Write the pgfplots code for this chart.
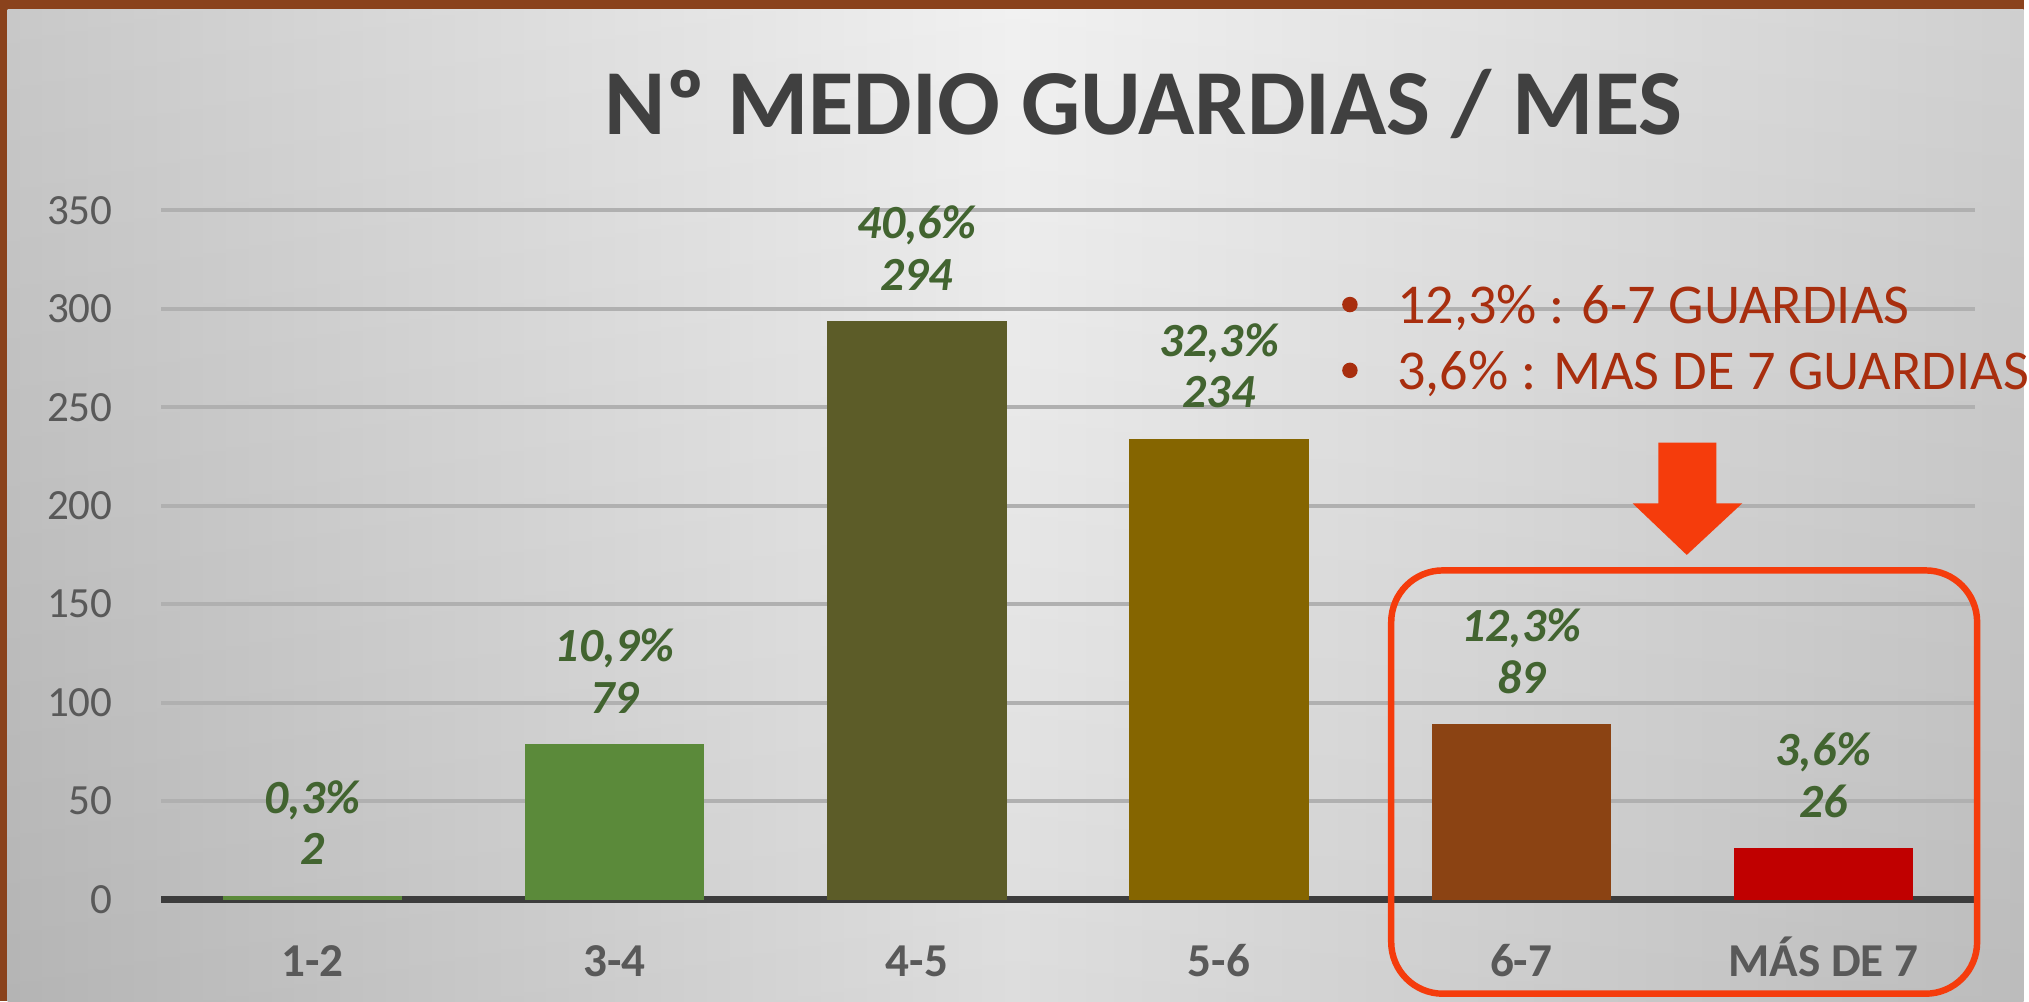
\documentclass[border=0pt]{standalone}
\usepackage{fontspec}
\setmainfont{Carlito}
\usepackage{pgfplots}
\pgfplotsset{compat=1.18}
\definecolor{bordbrown}{RGB}{138,66,28}
\definecolor{bgleft}{RGB}{196,196,196}
\definecolor{bgmid}{RGB}{240,240,240}
\definecolor{bgright}{RGB}{204,204,204}
\definecolor{titlegray}{RGB}{64,64,64}
\definecolor{tickgray}{RGB}{89,89,89}
\definecolor{gridgray}{RGB}{176,176,176}
\definecolor{axisdark}{RGB}{60,60,60}
\definecolor{labgreen}{RGB}{66,100,48}
\definecolor{notered}{RGB}{168,46,14}
\definecolor{hilite}{RGB}{245,60,12}
\definecolor{barA}{RGB}{91,138,58}
\definecolor{barB}{RGB}{92,92,40}
\definecolor{barC}{RGB}{133,101,0}
\definecolor{barD}{RGB}{139,67,19}
\definecolor{barE}{RGB}{192,0,0}

\begin{document}
\begin{tikzpicture}[x=0.1mm,y=0.1mm]
% frame and background
\fill[bordbrown] (0,0) rectangle (1568,776);
\shade[left color=bgleft, right color=bgright, middle color=bgmid] (6,0) rectangle (1568,769);
\shade[top color=white, bottom color=black, opacity=0.08] (6,0) rectangle (1568,769);

\begin{axis}[
  at={(12.5mm,7.9mm)}, anchor=south west,
  scale only axis,
  width=140.5mm, height=53.4mm,
  xmin=-0.5, xmax=5.5,
  ymin=0, ymax=350,
  ytick={0,50,...,350},
  xtick={0,1,2,3,4,5},
  xticklabels={1-2,3-4,4-5,5-6,6-7,MÁS DE 7},
  ybar, bar width=13.9mm, bar shift=0pt,
  axis x line*=bottom, axis y line*=left,
  x axis line style={-, draw=axisdark, line width=1.5pt},
  y axis line style={draw=none},
  major tick length=0pt,
  ymajorgrids,
  grid style={draw=gridgray, line width=0.9pt},
  /pgf/number format/assume math mode=true,
  yticklabel style={font=\fontsize{9.5}{11}\selectfont, text=tickgray,
    inner sep=0pt, xshift=-3.7mm},
  xticklabel style={font=\bfseries\fontsize{10.4}{12}\selectfont, text=tickgray,
    inner sep=0pt, anchor=base, yshift=-6.0mm},
  point meta=y,
  visualization depends on={value \thisrow{pct} \as \pct},
  nodes near coords={\pct\%\\\pgfmathprintnumber{\pgfplotspointmeta}},
  every node near coord/.append style={
    font=\bfseries\itshape\fontsize{10.5}{11.4}\selectfont,
    text=labgreen, align=center, anchor=south, inner sep=0pt, yshift=2.3mm},
  clip=false,
]
\addplot[fill=barA, draw=none] table {
x y pct
0 2 0,3
};
\addplot[fill=barA, draw=none] table {
x y pct
1 79 10,9
};
\addplot[fill=barB, draw=none] table {
x y pct
2 294 40,6
};
\addplot[fill=barC, draw=none] table {
x y pct
3 234 32,3
};
\addplot[fill=barD, draw=none] table {
x y pct
4 89 12,3
};
\addplot[fill=barE, draw=none] table {
x y pct
5 26 3,6
};
\end{axis}

% title
\node[anchor=base, font=\bfseries\fontsize{20.5}{24}\selectfont, text=titlegray]
  at (886,672) {Nº MEDIO GUARDIAS / MES};

% notes
\fill[notered] (1046,540) circle (6);
\fill[notered] (1046,489) circle (6);
\node[anchor=base west, inner sep=0pt, font=\fontsize{12.4}{14}\selectfont, text=notered]
  at (1082,525) {12,3\% : 6-7 GUARDIAS};
\node[anchor=base west, inner sep=0pt, font=\fontsize{12.4}{14}\selectfont, text=notered]
  at (1082,474) {3,6\% : MAS DE 7 GUARDIAS};

% arrow and highlight box
\fill[hilite] (1285,433) -- (1330,433) -- (1330,386) -- (1350,386) -- (1307,346)
  -- (1265,386) -- (1285,386) -- cycle;
\draw[hilite, line width=0.5mm, rounded corners=4mm] (1078,6) rectangle (1532,334);
\end{tikzpicture}
\end{document}
